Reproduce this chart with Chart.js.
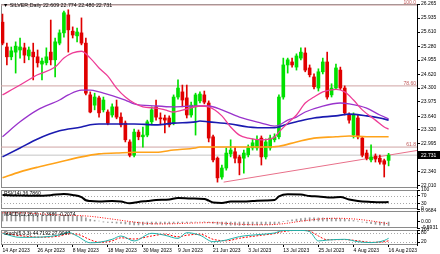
<!DOCTYPE html>
<html lang="en">
<head>
<meta charset="UTF-8">
<title>SILVER Daily</title>
<script src="https://cdn.jsdelivr.net/npm/chart.js"></script>
<style>
    body { margin: 0; background: #fff; }
    #wrap { position: relative; width: 440px; height: 254px; overflow: hidden; }
    #wrap canvas { position: absolute; left: 0; }
</style>
</head>
<body>
<div id="wrap">
    <canvas id="priceChart" width="440" height="192" style="top:0"></canvas>
    <canvas id="rsiChart" width="440" height="30" style="top:184px"></canvas>
    <canvas id="macdChart" width="440" height="28" style="top:205px"></canvas>
    <canvas id="stochChart" width="440" height="30" style="top:224px"></canvas>
</div>
<script>
const symbol = 'SILVER,Daily';

// bar index -> date label on the time axis
const dateBars = [0, 8, 16, 24, 32, 40, 48, 56, 64, 72, 80, 88];
const dateLabels = ['14 Apr 2023', '26 Apr 2023', '8 May 2023', '18 May 2023', '30 May 2023', '9 Jun 2023',
    '21 Jun 2023', '3 Jul 2023', '13 Jul 2023', '25 Jul 2023', '4 Aug 2023', '16 Aug 2023'];

// daily candles, one per bar index
const open = [25.84, 25.26, 25.03, 25.14, 25.19, 25.24, 25.05, 25.14, 25.03, 24.86, 24.89, 25.14, 24.96, 25.35, 25.59,
    26.01, 25.63, 25.52, 25.59, 25.35, 24.14, 23.90, 24.07, 23.79, 23.74, 23.67, 23.86, 23.62, 23.48, 23.04,
    22.73, 23.27, 23.16, 23.20, 23.51, 23.86, 23.60, 23.60, 23.60, 23.48, 24.09, 24.21, 24.07, 23.67, 23.86,
    24.00, 24.14, 23.95, 23.16, 22.66, 22.22, 22.43, 22.76, 22.81, 22.69, 22.66, 22.74, 22.90, 22.90, 23.13,
    22.69, 22.90, 23.09, 23.16, 24.09, 24.84, 24.91, 24.79, 25.00, 25.12, 24.77, 24.56, 24.30, 24.68, 24.91,
    24.14, 24.30, 24.72, 24.30, 23.67, 23.20, 23.60, 23.13, 22.78, 22.62, 22.71, 22.66, 22.60, 22.609];
const high = [26.03, 25.35, 25.26, 25.38, 25.47, 25.35, 25.26, 25.35, 25.19, 25.00, 25.24, 25.89, 25.47, 25.66, 26.10,
    26.13, 25.73, 25.70, 25.94, 25.47, 24.21, 24.18, 24.11, 24.09, 23.79, 23.93, 24.02, 23.72, 23.53, 23.09,
    23.34, 23.32, 23.39, 23.55, 23.86, 24.02, 23.72, 23.67, 23.65, 24.14, 24.49, 24.37, 24.37, 23.97, 24.18,
    24.21, 24.23, 24.00, 23.20, 22.69, 22.50, 22.90, 23.09, 22.92, 22.73, 22.85, 22.97, 23.11, 23.18, 23.18,
    23.11, 23.20, 23.23, 24.14, 25.00, 25.00, 25.00, 25.10, 25.24, 25.24, 24.84, 24.63, 24.75, 25.00, 25.14,
    24.40, 24.86, 24.79, 24.35, 23.72, 23.72, 23.67, 23.16, 22.85, 22.97, 22.76, 22.73, 22.64, 22.774];
const low = [25.31, 24.84, 24.96, 24.65, 25.00, 24.89, 24.96, 24.49, 24.79, 24.49, 24.84, 24.84, 24.56, 25.31, 25.49,
    25.14, 25.47, 25.38, 25.31, 24.14, 23.72, 23.79, 23.62, 23.74, 23.44, 23.62, 23.58, 23.39, 23.04, 22.69,
    22.69, 23.09, 22.92, 23.16, 23.44, 23.55, 23.44, 23.25, 23.39, 23.44, 24.04, 23.86, 23.60, 23.62, 23.20,
    23.95, 23.93, 23.04, 22.57, 22.10, 22.17, 22.38, 22.69, 22.55, 22.27, 22.31, 22.69, 22.85, 22.85, 22.50,
    22.64, 22.85, 23.04, 23.11, 24.04, 24.65, 24.79, 24.72, 24.96, 24.68, 24.56, 24.28, 24.23, 24.63, 24.04,
    24.09, 24.26, 24.26, 23.67, 23.48, 23.13, 23.11, 22.69, 22.62, 22.57, 22.57, 22.52, 22.22, 22.480];
const close = [25.35, 25.03, 25.17, 25.28, 25.26, 25.07, 25.19, 25.03, 24.89, 24.93, 25.03, 24.96, 25.38, 25.59, 26.06,
    25.66, 25.54, 25.61, 25.35, 24.18, 23.74, 24.09, 23.72, 24.02, 23.48, 23.86, 23.62, 23.44, 23.09, 22.73,
    23.27, 23.16, 23.20, 23.51, 23.79, 23.62, 23.58, 23.55, 23.44, 24.09, 24.30, 24.02, 23.67, 23.90, 24.14,
    24.16, 23.97, 23.13, 22.62, 22.20, 22.43, 22.78, 22.85, 22.66, 22.55, 22.78, 22.90, 23.02, 23.09, 22.69,
    23.04, 23.13, 23.16, 24.09, 24.84, 24.96, 24.84, 25.05, 25.14, 24.72, 24.61, 24.33, 24.68, 24.91, 24.09,
    24.30, 24.77, 24.30, 23.72, 23.55, 23.67, 23.16, 22.73, 22.66, 22.69, 22.64, 22.57, 22.52, 22.731];

const priceTicks = [26.265, 25.935, 25.610, 25.280, 24.955, 24.620, 24.300, 23.975, 23.640, 23.320, 22.995, 22.340, 22.010];

// moving averages, [bar index, price]
const maFast = [[0, 24.14], [4, 24.37], [8, 24.61], [12, 24.79], [14, 25.00], [16, 25.12], [18, 25.16], [20, 25.00],
    [22, 24.77], [24, 24.58], [26, 24.30], [28, 24.09], [30, 23.95], [32, 23.86], [35, 23.83], [37, 23.79],
    [39, 23.74], [42, 23.81], [45, 23.88], [47, 23.86], [50, 23.65], [52, 23.39], [54, 23.20], [56, 23.13],
    [59, 23.09], [61, 23.11], [62, 23.15], [63, 23.27], [65, 23.48], [67, 23.67], [69, 23.95], [71, 24.09],
    [73, 24.21], [76, 24.27], [78, 24.21], [80, 24.02], [82, 23.79], [85, 23.55], [87, 23.39], [88, 23.34]];
const maMid = [[0, 23.16], [4, 23.51], [8, 23.79], [13, 24.02], [15, 24.14], [18, 24.25], [20, 24.25], [22, 24.21],
    [23, 24.18], [26, 24.09], [28, 24.02], [30, 23.93], [35, 23.88], [39, 23.86], [44, 23.88], [47, 23.88],
    [50, 23.79], [54, 23.62], [59, 23.48], [62, 23.41], [63, 23.43], [65, 23.55], [67, 23.62], [69, 23.74],
    [73, 23.88], [77, 23.95], [79, 23.93], [83, 23.83], [86, 23.67], [88, 23.58]];
const maSlow = [[0, 22.69], [4, 22.90], [8, 23.11], [13, 23.30], [18, 23.39], [20, 23.44], [22, 23.46], [26, 23.46],
    [30, 23.46], [35, 23.44], [39, 23.48], [44, 23.51], [45, 23.53], [47, 23.51], [52, 23.46], [56, 23.39],
    [61, 23.37], [63, 23.39], [65, 23.46], [67, 23.51], [71, 23.60], [76, 23.65], [79, 23.69], [83, 23.65],
    [86, 23.60], [88, 23.55]];
const maLong = [[0, 22.20], [4, 22.34], [8, 22.45], [13, 22.57], [18, 22.69], [22, 22.76], [26, 22.78], [30, 22.80],
    [35, 22.80], [39, 22.85], [44, 22.90], [45, 22.92], [50, 22.92], [54, 22.92], [59, 22.92], [63, 22.94],
    [67, 23.04], [71, 23.13], [76, 23.16], [79, 23.18], [83, 23.16], [88, 23.16]];

// drawn objects
const fibNames = ['100.0', '78.60', '61.8'];
const fibPrices = [26.24, 24.35, 22.92];
const trendLine = [[50.4, 22.10], [94.47, 22.84]];

// RSI(14)
const rsiTitle = 'RSI(14) 36.7860';
const rsi = [[0, 74], [4, 71], [8, 70], [11, 73], [14, 79], [16, 74], [18, 63], [19, 46], [20, 42], [22, 40],
    [25, 42], [27, 39], [29, 30], [31, 37], [33, 42], [35, 47], [38, 50], [40, 58], [43, 55], [46, 53],
    [47, 44], [48, 34], [50, 32], [52, 39], [55, 40], [57, 42], [60, 45], [62, 47], [63, 66], [65, 77],
    [68, 76], [70, 68], [72, 66], [75, 60], [77, 63], [79, 50], [81, 42], [84, 37], [86, 35], [88, 36.786]];
const rsiLevels = [70, 30];
const rsiTicks = [100, 70, 30, 0];

// MACD(12,26,9): main as histogram, signal dotted
const macdTitle = 'MACD(12,26,9) -0.3686 -0.2074';
const macdMain = [0.9684, 0.92, 0.88, 0.84, 0.80, 0.75, 0.70, 0.65, 0.60, 0.56, 0.53, 0.50, 0.50, 0.52, 0.56,
    0.57, 0.55, 0.53, 0.50, 0.35, 0.20, 0.12, 0.05, -0.02, -0.08, -0.11, -0.15, -0.18, -0.22, -0.27,
    -0.30, -0.31, -0.30, -0.28, -0.25, -0.22, -0.20, -0.20, -0.20, -0.16, -0.12, -0.11, -0.10, -0.08, -0.05,
    -0.04, -0.03, -0.08, -0.15, -0.25, -0.30, -0.32, -0.33, -0.34, -0.35, -0.34, -0.33, -0.32, -0.30, -0.29,
    -0.28, -0.27, -0.25, -0.15, 0.00, 0.08, 0.15, 0.22, 0.28, 0.32, 0.35, 0.34, 0.33, 0.33, 0.32,
    0.31, 0.30, 0.26, 0.22, 0.16, 0.10, 0.03, -0.05, -0.12, -0.20, -0.25, -0.30, -0.34, -0.3686];
const macdSignal = [[0, 0.80], [4, 0.80], [8, 0.72], [12, 0.62], [16, 0.57], [20, 0.48], [24, 0.28], [28, 0.06],
    [32, -0.14], [36, -0.22], [40, -0.19], [44, -0.13], [48, -0.10], [52, -0.20], [56, -0.28], [60, -0.30],
    [64, -0.20], [68, 0.03], [72, 0.22], [76, 0.30], [80, 0.24], [84, 0.06], [88, -0.2074]];
const macdTicks = [0.9684, 0, -0.5931];

// Stochastic(5,3,3)
const stochTitle = 'Stoch(5,3,3) 44.7192 27.9047';
const stochMain = [[0, 78], [4, 51], [9, 53], [13, 67], [15, 84], [17, 60], [20, 15], [22, 18], [25, 38], [27, 60],
    [30, 27], [34, 78], [37, 65], [40, 44], [42, 82], [45, 65], [48, 22], [51, 33], [54, 56], [59, 71],
    [62, 80], [64, 97], [68, 97], [70, 89], [72, 27], [74, 33], [78, 38], [81, 22], [84, 16], [87, 30], [88, 44.72]];
const stochSignal = [[0, 80], [4, 62], [9, 52], [13, 60], [15, 75], [17, 72], [20, 35], [22, 18], [25, 28], [27, 48],
    [30, 40], [34, 60], [37, 72], [40, 55], [42, 65], [45, 72], [48, 38], [51, 28], [54, 45], [59, 65],
    [62, 76], [64, 90], [68, 98], [70, 93], [72, 60], [74, 35], [78, 36], [81, 28], [84, 18], [87, 22], [88, 27.9]];
const stochLevels = [80, 20];
const stochTicks = [100, 80, 20];

const FONT = '"Liberation Sans", Arial, sans-serif';
const UP = '#00e000';
const DOWN = '#e00000';
const xMin = -0.34, xMax = 94.47;

Chart.defaults.font.family = FONT;
Chart.defaults.font.size = 5;

const pts = arr => arr.map(p => ({ x: p[0], y: p[1] }));
const flat = v => [{ x: xMin, y: v }, { x: xMax, y: v }];
const candleColor = c => close[c.dataIndex] >= open[c.dataIndex] ? UP : DOWN;

function xAxis(show) {
    const axis = { type: 'linear', min: xMin, max: xMax, offset: false, display: show };
    if (show) {
        axis.afterFit = s => { s.height = 9; };
        axis.afterBuildTicks = s => { s.ticks = dateBars.map(v => ({ value: v })); };
        axis.ticks = { autoSkip: false, maxRotation: 0, align: 'start', padding: 1, color: '#000',
            callback: (v, i) => dateLabels[i] };
        axis.grid = { drawOnChartArea: false, tickLength: 2, tickColor: '#000' };
        axis.border = { display: false };
    }
    return axis;
}

function yAxis(min, max, tickValues, fmt) {
    return {
        position: 'right', min: min, max: max,
        afterFit: s => { s.width = 23; },
        afterBuildTicks: s => { s.ticks = tickValues.map(v => ({ value: v })); },
        ticks: { autoSkip: false, padding: 1, color: '#000', callback: fmt },
        grid: { drawOnChartArea: false, tickLength: 3, tickColor: '#000' },
        border: { color: '#000' }
    };
}

// pane frame, dotted levels and the indicator caption
function paneDecor(title, levels) {
    return {
        id: 'paneDecor',
        beforeDraw(chart) {
            const { ctx, chartArea: a } = chart;
            ctx.save();
            ctx.strokeStyle = '#8a8a8a';
            ctx.lineWidth = 1;
            ctx.strokeRect(a.left + 0.5, a.top + 0.5, a.right - a.left, a.bottom - a.top - 1);
            ctx.restore();
        },
        beforeDatasetsDraw(chart) {
            const { ctx, chartArea: a, scales } = chart;
            ctx.save();
            ctx.strokeStyle = '#a8a8a8';
            ctx.setLineDash([1, 2]);
            ctx.lineWidth = 1;
            levels.forEach(v => {
                const y = Math.round(scales.y.getPixelForValue(v)) + 0.5;
                ctx.beginPath();
                ctx.moveTo(a.left, y);
                ctx.lineTo(a.right, y);
                ctx.stroke();
            });
            ctx.restore();
        },
        afterDraw(chart) {
            if (!title) return;
            const { ctx, chartArea: a } = chart;
            ctx.save();
            ctx.font = '5px ' + FONT;
            ctx.fillStyle = '#000';
            ctx.textBaseline = 'top';
            ctx.fillText(title, a.left + 3, a.top + 1.5);
            ctx.restore();
        }
    };
}

const priceDecor = {
    id: 'priceDecor',
    afterDraw(chart) {
        const { ctx, chartArea: a, scales: { y } } = chart;
        ctx.save();
        ctx.font = '5px ' + FONT;
        ctx.fillStyle = '#c05a5a';
        ctx.textAlign = 'right';
        ctx.textBaseline = 'bottom';
        fibNames.forEach((n, k) => ctx.fillText(n, a.right - 1, y.getPixelForValue(fibPrices[k]) + 0.5));

        // current price marker on the scale
        const last = close[close.length - 1];
        const py = Math.round(y.getPixelForValue(last));
        ctx.fillStyle = '#000';
        ctx.fillRect(a.right + 1, py - 4, 440 - a.right - 1, 8);
        ctx.fillStyle = '#fff';
        ctx.textAlign = 'left';
        ctx.textBaseline = 'middle';
        ctx.fillText(last.toFixed(3), a.right + 4, py + 0.5);

        // header line
        const n = close.length - 1;
        ctx.font = '5.3px ' + FONT;
        ctx.fillStyle = '#000';
        ctx.fillText('\u25BC ' + symbol + ' ' + [open[n], high[n], low[n], close[n]].map(v => v.toFixed(3)).join(' '), 3, 5.5);
        ctx.restore();
    }
};

function lineSet(data, color, width, extra) {
    return Object.assign({ type: 'line', data: data, borderColor: color, borderWidth: width,
        pointRadius: 0, fill: false, cubicInterpolationMode: 'monotone' }, extra || {});
}

const common = {
    responsive: false,
    animation: false,
    devicePixelRatio: 1,
    events: [],
    plugins: { legend: { display: false }, tooltip: { enabled: false } }
};

// main price pane
new Chart(document.getElementById('priceChart'), {
    type: 'bar',
    data: {
        datasets: [
            lineSet(pts(maFast), '#ee3d96', 1.3, { order: 0 }),
            lineSet(pts(maMid), '#9933cc', 1.3, { order: 0 }),
            lineSet(pts(maSlow), '#1a1ab0', 1.6, { order: 0 }),
            lineSet(pts(maLong), '#ffa31a', 1.6, { order: 0 }),
            { type: 'bar', data: open.map((o, i) => ({ x: i, y: [o, close[i]] })), backgroundColor: candleColor,
              barThickness: 3, minBarLength: 1, grouped: false, order: 1 },
            { type: 'bar', data: low.map((l, i) => ({ x: i, y: [l, high[i]] })), backgroundColor: candleColor,
              barThickness: 1, grouped: false, order: 2 },
            lineSet(pts(trendLine), '#e8708a', 1, { order: 3, cubicInterpolationMode: 'default' }),
            lineSet(flat(close[close.length - 1]), '#c4c4c4', 1, { order: 4 }),
            ...fibPrices.map(p => lineSet(flat(p), '#cfa3a3', 1, { order: 4 }))
        ]
    },
    options: Object.assign({}, common, {
        layout: { padding: { left: 1, top: 4, right: 0, bottom: 4 } },
        scales: {
            x: xAxis(false),
            y: yAxis(21.963, 26.265, priceTicks, v => v.toFixed(3))
        }
    }),
    plugins: [paneDecor('', []), priceDecor]
});

// RSI pane
new Chart(document.getElementById('rsiChart'), {
    type: 'line',
    data: { datasets: [lineSet(pts(rsi), '#000', 2)] },
    options: Object.assign({}, common, {
        layout: { padding: { left: 1, top: 6, right: 0, bottom: 5 } },
        scales: { x: xAxis(false), y: yAxis(0, 100, rsiTicks, v => String(v)) }
    }),
    plugins: [paneDecor(rsiTitle, rsiLevels)]
});

// MACD pane
new Chart(document.getElementById('macdChart'), {
    type: 'bar',
    data: {
        datasets: [
            lineSet(pts(macdSignal), '#ff0000', 1, { borderDash: [1, 1.5], order: 0 }),
            { type: 'bar', data: macdMain.map((v, i) => ({ x: i, y: v })), backgroundColor: '#9c9c9c',
              barThickness: 1, order: 1 }
        ]
    },
    options: Object.assign({}, common, {
        layout: { padding: { left: 1, top: 6, right: 0, bottom: 5 } },
        scales: {
            x: xAxis(false),
            y: yAxis(-0.5931, 0.9684, macdTicks, v => v === 0 ? '0.00' : v.toFixed(4))
        }
    }),
    plugins: [paneDecor(macdTitle, [])]
});

// Stochastic pane with the time axis
new Chart(document.getElementById('stochChart'), {
    type: 'line',
    data: {
        datasets: [
            lineSet(pts(stochMain), '#20b2aa', 1),
            lineSet(pts(stochSignal), '#ff0000', 1, { borderDash: [2, 1.5] })
        ]
    },
    options: Object.assign({}, common, {
        layout: { padding: { left: 1, top: 6, right: 0, bottom: 0 } },
        scales: { x: xAxis(true), y: yAxis(0, 100, stochTicks, v => String(v)) }
    }),
    plugins: [paneDecor(stochTitle, stochLevels)]
});
</script>
</body>
</html>
